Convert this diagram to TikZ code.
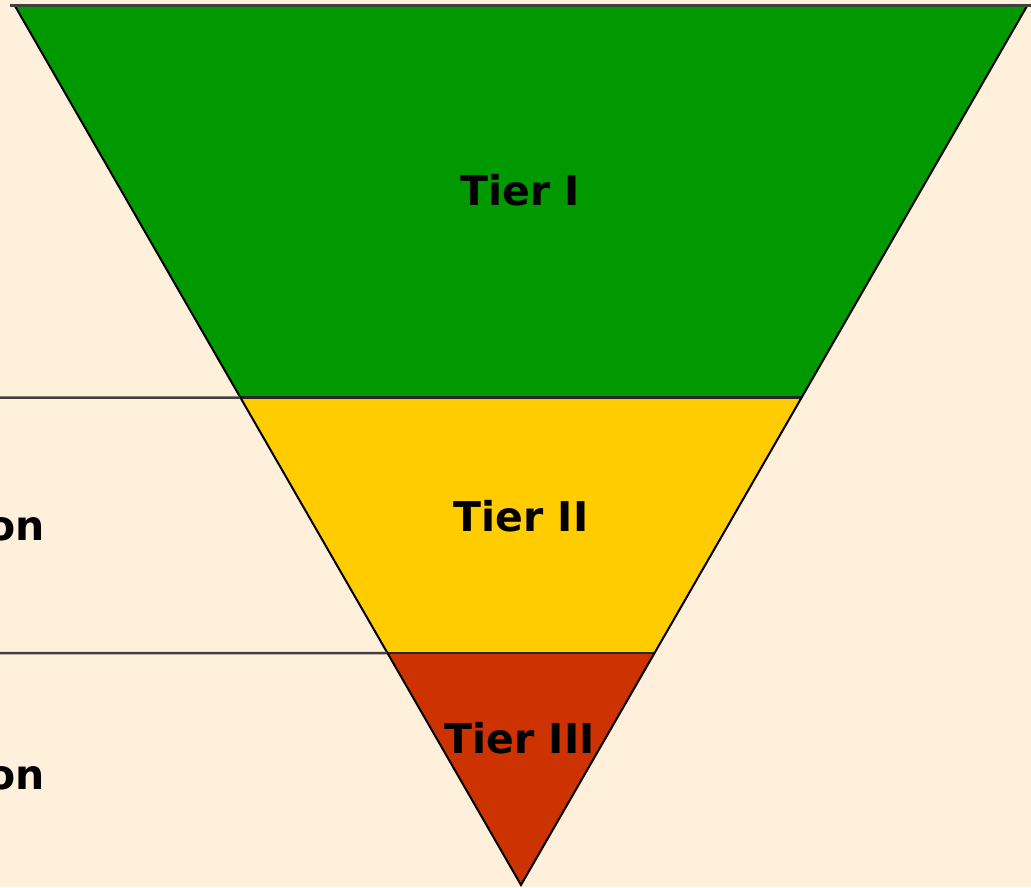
\documentclass[tikz,border=0pt]{standalone}
\usepackage{fontspec}
\setmainfont{DejaVu Sans}
\usetikzlibrary{calc}
\definecolor{bgcream}{HTML}{FFF0DB}
\definecolor{tiergreen}{HTML}{009900}
\definecolor{tieryellow}{HTML}{FFCC00}
\definecolor{tierred}{HTML}{CC3300}
\definecolor{rulegray}{HTML}{404040}
\begin{document}
\begin{tikzpicture}[x=1pt,y=-1pt,
  lbl/.style={font=\bfseries\fontsize{41}{41}\selectfont, inner sep=0pt, anchor=base},
  sidelbl/.style={font=\bfseries\fontsize{41}{41}\selectfont, inner sep=0pt, anchor=base east},
  edge/.style={draw=black, line width=2pt, line join=miter},
  divider/.style={draw=black!85, line width=2.5pt},
  leader/.style={draw=rulegray, line width=2.5pt}]
\useasboundingbox (0,0) rectangle (1031,887);
\fill[bgcream] (0,0) rectangle (1031,887);
\coordinate (A) at (15,6);
\coordinate (B) at (1027,6);
\coordinate (C) at (521,885);
\coordinate (L1) at ($(A)!0.4454!(C)$);
\coordinate (R1) at ($(B)!0.4454!(C)$);
\coordinate (L2) at ($(A)!0.7361!(C)$);
\coordinate (R2) at ($(B)!0.7361!(C)$);
\coordinate (E1) at (0,397.5);
\coordinate (E2) at (0,653);
% tiers
\fill[tiergreen] (A) -- (B) -- (R1) -- (L1) -- cycle;
\fill[tieryellow] (L1) -- (R1) -- (R2) -- (L2) -- cycle;
\fill[tierred] (L2) -- (R2) -- (C) -- cycle;
\draw[divider] (L1) -- (R1);
\draw[divider] (L2) -- (R2);
\draw[edge] (A) -- (C) -- (B);
\draw[leader] (10,5.5) -- (1031,5.5);
\draw[leader] (E1) -- (L1);
\draw[leader] (E2) -- (L2);
% labels
\node[lbl] (t1) at (520,205) {Tier I};
\node[lbl] (t2) at (521,531) {Tier II};
\node[lbl] (t3) at (519.5,753) {Tier III};
\node[sidelbl] (s2) at (45,540) {on};
\node[sidelbl] (s3) at (45,789) {on};
\end{tikzpicture}
\end{document}
